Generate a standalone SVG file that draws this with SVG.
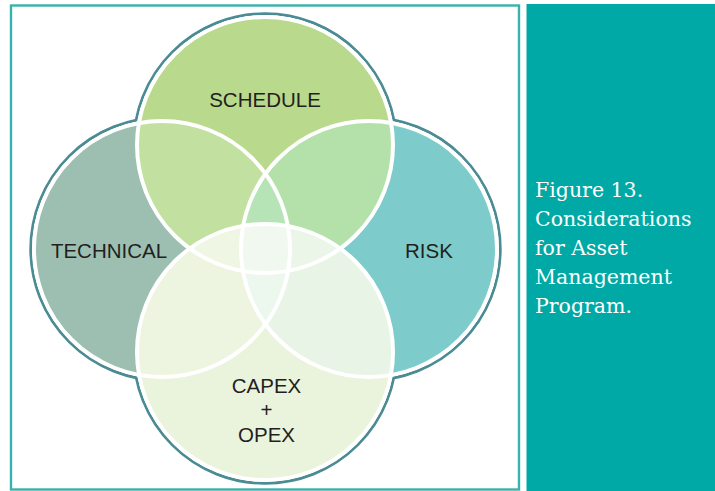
<svg xmlns="http://www.w3.org/2000/svg" width="715" height="491" viewBox="0 0 715 491">
  <style>
    .ring { fill: none; stroke: #4b8b93; stroke-width: 3; }
    .halo { fill: #ffffff; stroke: none; }
    .edge { fill: none; stroke: #ffffff; stroke-width: 4; }
    .lbl { font-family: "Liberation Sans", Arial, sans-serif; font-size: 20.5px; fill: #231f20; text-anchor: middle; }
    .cap { font-family: "DejaVu Serif", "Liberation Serif", serif; font-size: 20.5px; fill: #ffffff; }
  </style>
  <defs>
    <clipPath id="clipS"><circle cx="265" cy="145" r="128"/></clipPath>
    <clipPath id="clipT"><circle cx="162" cy="249" r="128"/></clipPath>
    <clipPath id="clipR"><circle cx="369" cy="249" r="128"/></clipPath>
    <clipPath id="clipC"><circle cx="265" cy="352" r="128"/></clipPath>
  </defs>

  <rect x="0" y="0" width="715" height="491" fill="#ffffff"/>
  <rect id="frame" x="11" y="5.5" width="508" height="484" fill="#ffffff" stroke="#38b2ac" stroke-width="2.4"/>
  <rect id="caption-panel" x="526.5" y="4" width="188.5" height="487" fill="#00a9a5"/>

  <!-- outer outline of the union -->
  <g id="outline">
    <circle class="ring" cx="265" cy="145" r="131.2"/>
    <circle class="ring" cx="162" cy="249" r="131.2"/>
    <circle class="ring" cx="369" cy="249" r="131.2"/>
    <circle class="ring" cx="265" cy="352" r="131.2"/>
    <circle class="halo" cx="265" cy="145" r="129.7"/>
    <circle class="halo" cx="162" cy="249" r="129.7"/>
    <circle class="halo" cx="369" cy="249" r="129.7"/>
    <circle class="halo" cx="265" cy="352" r="129.7"/>
  </g>

  <g id="schedule"><circle cx="265" cy="145" r="128" fill="#b9d98c"/></g>
  <g id="technical"><circle cx="162" cy="249" r="128" fill="#9cbfb1"/></g>
  <g id="risk"><circle cx="369" cy="249" r="128" fill="#7dcccb"/></g>
  <g id="capex-opex"><circle cx="265" cy="352" r="128" fill="#eaf3dc"/></g>

  <g id="overlaps">
    <circle cx="162" cy="249" r="128" fill="#c2e09f" clip-path="url(#clipS)"/>
    <circle cx="369" cy="249" r="128" fill="#b4e1aa" clip-path="url(#clipS)"/>
    <circle cx="162" cy="249" r="128" fill="#edf5e0" clip-path="url(#clipC)"/>
    <circle cx="369" cy="249" r="128" fill="#e8f4e6" clip-path="url(#clipC)"/>
    <g clip-path="url(#clipS)"><circle cx="162" cy="249" r="128" fill="#b7e4b7" clip-path="url(#clipR)"/></g>
    <g clip-path="url(#clipS)"><circle cx="162" cy="249" r="128" fill="#eff6e3" clip-path="url(#clipC)"/></g>
    <g clip-path="url(#clipS)"><circle cx="369" cy="249" r="128" fill="#ebf6e9" clip-path="url(#clipC)"/></g>
    <g clip-path="url(#clipT)"><circle cx="369" cy="249" r="128" fill="#ecf7ed" clip-path="url(#clipC)"/></g>
    <g clip-path="url(#clipS)"><g clip-path="url(#clipT)"><g clip-path="url(#clipR)"><circle cx="265" cy="352" r="128" fill="#f1f8ef"/></g></g></g>
  </g>

  <g id="edges">
    <circle class="edge" cx="265" cy="145" r="128"/>
    <circle class="edge" cx="162" cy="249" r="128"/>
    <circle class="edge" cx="369" cy="249" r="128"/>
    <circle class="edge" cx="265" cy="352" r="128"/>
  </g>

  <g id="labels">
    <text class="lbl" x="265" y="107">SCHEDULE</text>
    <text class="lbl" x="109" y="258">TECHNICAL</text>
    <text class="lbl" x="429" y="258">RISK</text>
    <text class="lbl" x="266.5" y="393">CAPEX</text>
    <text class="lbl" x="266.5" y="417">+</text>
    <text class="lbl" x="266.5" y="442">OPEX</text>
  </g>

  <g id="caption">
    <text class="cap" x="535" y="197">Figure 13.</text>
    <text class="cap" x="535" y="226">Considerations</text>
    <text class="cap" x="535" y="255">for Asset</text>
    <text class="cap" x="535" y="284">Management</text>
    <text class="cap" x="535" y="313">Program.</text>
  </g>
</svg>
